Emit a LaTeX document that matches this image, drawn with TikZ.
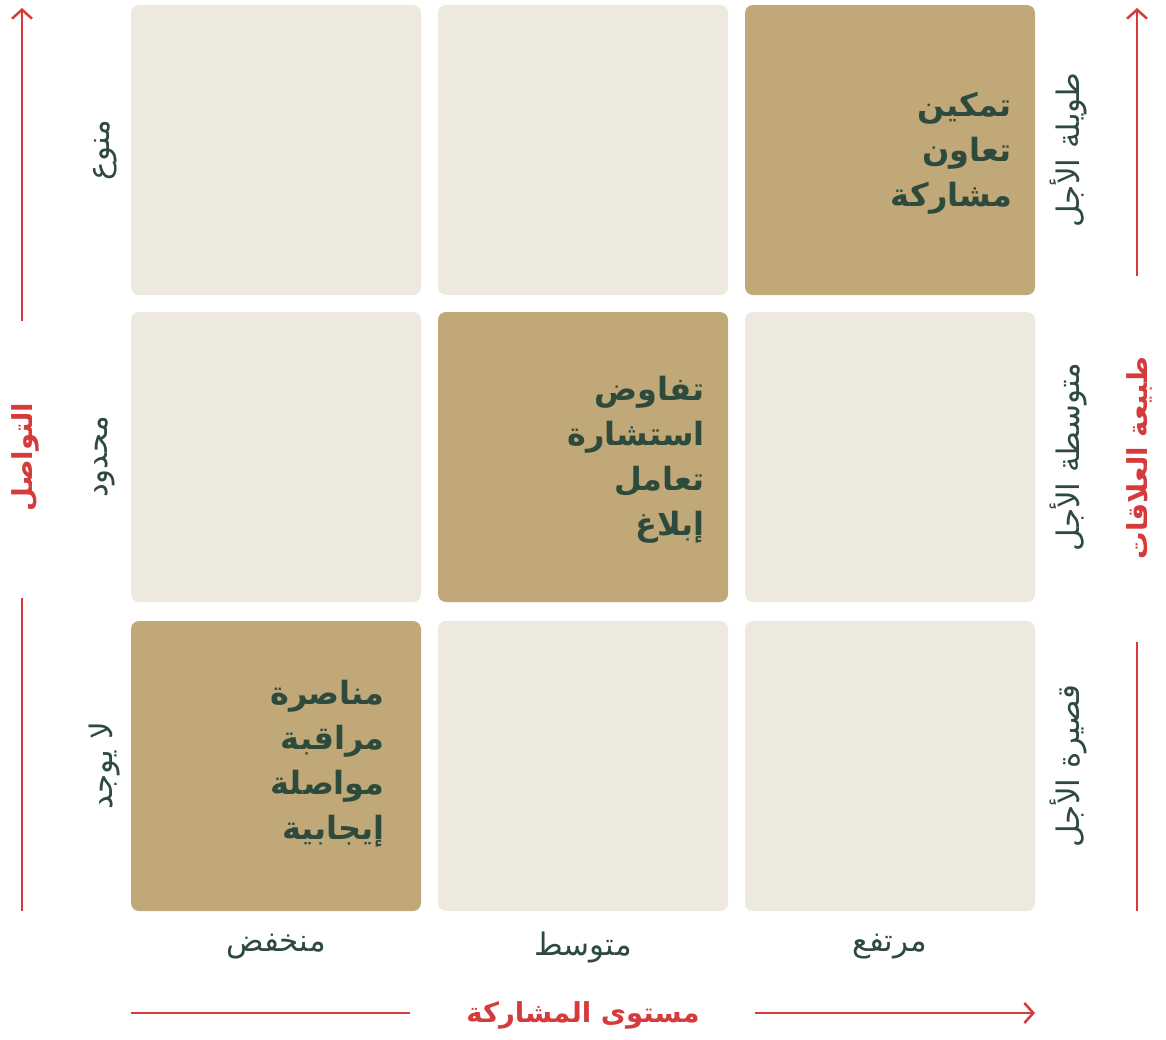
\documentclass[tikz,border=0pt]{standalone}
\usepackage{fontspec}
\usetikzlibrary{arrows.meta}
\TeXXeTstate=1
\newfontfamily\arabicfont[Script=Arabic]{DejaVu Sans}
\definecolor{cellL}{HTML}{EDE9DE}
\definecolor{cellD}{HTML}{C0A878}
\definecolor{ink}{HTML}{2E4A3D}
\definecolor{axisred}{HTML}{D63B3B}
\begin{document}
\begin{tikzpicture}[x=1pt,y=-1pt,
  cell/.style={rectangle, rounded corners=8pt, minimum width=290pt, minimum height=290pt, inner sep=0pt, fill=cellL},
  hot/.style={cell, fill=cellD},
  celltext/.style={anchor=north east, align=right, inner sep=0pt, text=ink, font=\arabicfont\bfseries\fontsize{32}{45}\selectfont},
  lab/.style={text=ink, font=\arabicfont\fontsize{31}{34}\selectfont, inner sep=0pt},
  axtitle/.style={text=axisred, font=\arabicfont\bfseries\fontsize{27.5}{32}\selectfont, inner sep=0pt},
  axis/.style={draw=axisred, line width=2.5pt},
  tip/.style={-{Straight Barb[length=9pt, width=20pt, line width=2.5pt]}}]
\useasboundingbox (0,0) rectangle (1166,1039);
% cells
\node[cell] (c11) at (276,150) {};
\node[cell] (c12) at (583,150) {};
\node[hot]  (c13) at (890,150) {};
\node[cell] (c21) at (276,457) {};
\node[hot]  (c22) at (583,457) {};
\node[cell] (c23) at (890,457) {};
\node[hot]  (c31) at (276,766) {};
\node[cell] (c32) at (583,766) {};
\node[cell] (c33) at (890,766) {};
% cell texts
\node[celltext] (t13) at (1012,92) {\beginR تمكين\endR\\\beginR تعاون\endR\\\beginR مشاركة\endR};
\node[celltext] (t22) at (705,376) {\beginR تفاوض\endR\\\beginR استشارة\endR\\\beginR تعامل\endR\\\beginR إبلاغ\endR};
\node[celltext] (t31) at (385,680) {\beginR مناصرة\endR\\\beginR مراقبة\endR\\\beginR مواصلة\endR\\\beginR إيجابية\endR};
% left labels
\node[lab, rotate=90] (l1) at (105,150) {\beginR منوع\endR};
\node[lab, rotate=90] (l2) at (105,457) {\beginR محدود\endR};
\node[lab, rotate=90] (l3) at (105,766) {\beginR لا يوجد\endR};
% right labels
\node[lab, rotate=90] (r1) at (1068,150) {\beginR طويلة الأجل\endR};
\node[lab, rotate=90] (r2) at (1068,457) {\beginR متوسطة الأجل\endR};
\node[lab, rotate=90] (r3) at (1068,766) {\beginR قصيرة الأجل\endR};
% bottom labels
\node[lab] (b1) at (276,947) {\beginR منخفض\endR};
\node[lab] (b2) at (583,947) {\beginR متوسط\endR};
\node[lab] (b3) at (890,947) {\beginR مرتفع\endR};
% axis titles
\node[axtitle, rotate=90] (ty) at (25,457) {\beginR التواصل\endR};
\node[axtitle, rotate=90] (tr) at (1139,458) {\beginR طبيعة العلاقات\endR};
\node[axtitle] (tx) at (583,1015) {\beginR مستوى المشاركة\endR};
% axis lines
\coordinate (ly1) at (22,321);
\coordinate (ly0) at (22,8);
\coordinate (ly2) at (22,598);
\coordinate (ly3) at (22,911);
\draw[axis, tip] (ly1) -- (ly0);
\draw[axis] (ly2) -- (ly3);
\coordinate (ry1) at (1137,276);
\coordinate (ry0) at (1137,8);
\coordinate (ry2) at (1137,642);
\coordinate (ry3) at (1137,911);
\draw[axis, tip] (ry1) -- (ry0);
\draw[axis] (ry2) -- (ry3);
\coordinate (bx0) at (131,1013);
\coordinate (bx1) at (410,1013);
\coordinate (bx2) at (755,1013);
\coordinate (bx3) at (1035,1013);
\draw[axis] (bx0) -- (bx1);
\draw[axis, tip] (bx2) -- (bx3);
\end{tikzpicture}
\end{document}
